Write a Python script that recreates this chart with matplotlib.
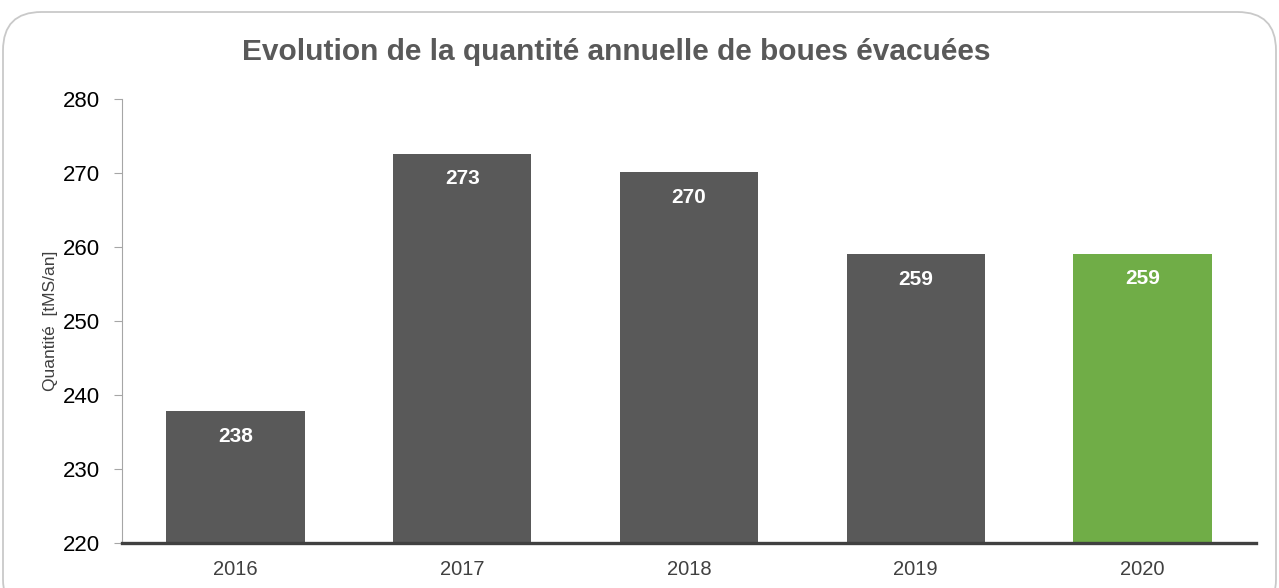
import matplotlib.pyplot as plt
from matplotlib.patches import FancyBboxPatch

plt.rcParams['font.family'] = ['Liberation Sans', 'DejaVu Sans']

years = ['2016', '2017', '2018', '2019', '2020']
quantities = [237.8, 272.6, 270.1, 259.0, 259.1]
labels = ['238', '273', '270', '259', '259']
bar_colors = ['#595959', '#595959', '#595959', '#595959', '#70AD47']

fig = plt.figure(figsize=(12.79, 5.88), dpi=100)

# rounded frame around the chart
frame = FancyBboxPatch((3 / 1279, -0.05), 1273 / 1279, 1.05 - 12 / 588,
                       boxstyle='round,pad=0,rounding_size=0.03',
                       transform=fig.transFigure, facecolor='none',
                       edgecolor='#C9C9C9', linewidth=1.3, mutation_aspect=1279 / 588,
                       zorder=-1)
fig.patches.append(frame)

ax = fig.add_axes([122 / 1279, 1 - 543 / 588, (1256 - 122) / 1279, (543 - 99) / 588])
ax.set_facecolor('none')

x = range(len(years))
bars = ax.bar(x, quantities, width=0.61, color=bar_colors, zorder=2)
for b, lab in zip(bars, labels):
    ax.text(b.get_x() + b.get_width() / 2, b.get_height() - 3.4, lab,
            ha='center', va='center', color='white', fontsize=15, fontweight='bold')

ax.set_xlim(-0.5, 4.5)
ax.set_ylim(220, 280)
ax.set_yticks(range(220, 281, 10))
ax.set_xticks(list(x))
ax.set_xticklabels(years)

ax.spines['top'].set_visible(False)
ax.spines['right'].set_visible(False)
ax.spines['left'].set_color('#A6A6A6')
ax.spines['bottom'].set_color('#404040')
ax.spines['bottom'].set_linewidth(2.4)
ax.spines['bottom'].set_zorder(3)

ax.tick_params(axis='y', length=6, color='#A6A6A6', labelsize=16, labelcolor='black', pad=10)
ax.tick_params(axis='x', length=0, labelsize=14.5, labelcolor='#404040', pad=12)

ax.set_ylabel('Quantité  [tMS/an]', fontsize=12.5, color='#404040', labelpad=3)
fig.text(616 / 1279, 1 - 52 / 588, 'Evolution de la quantité annuelle de boues évacuées',
         ha='center', va='center', fontsize=21.5, fontweight='bold', color='#595959')

fig.savefig('out.png', dpi=100)
